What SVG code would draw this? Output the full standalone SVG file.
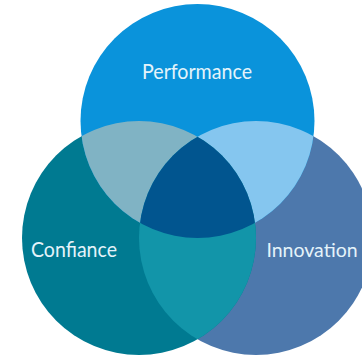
<svg xmlns="http://www.w3.org/2000/svg" width="362" height="355" viewBox="0 0 362 355">
<style>
text{font-family:Lato,"Open Sans",sans-serif;font-size:20.5px;fill:#e4f3fa;text-anchor:middle}
</style>
<defs>
<clipPath id="cT"><circle cx="197.5" cy="121" r="117"/></clipPath>
<clipPath id="cL"><circle cx="139" cy="238" r="117"/></clipPath>
</defs>
<rect width="362" height="355" fill="#fff"/>
<g id="innovation"><circle cx="256" cy="238" r="117" fill="#4d78ac"/></g>
<g id="confiance"><circle cx="139" cy="238" r="117" fill="#007a91"/></g>
<g id="performance"><circle cx="197.5" cy="121" r="117" fill="#0a93db"/></g>
<g id="overlaps">
<g clip-path="url(#cT)"><circle cx="139" cy="238" r="117" fill="#80b3c4"/><circle cx="256" cy="238" r="117" fill="#85c6ef"/></g>
<g clip-path="url(#cL)"><circle cx="256" cy="238" r="117" fill="#1295a9"/></g>
<g clip-path="url(#cT)"><g clip-path="url(#cL)"><circle cx="256" cy="238" r="117" fill="#01558f"/></g></g>
</g>
<g id="labels">
<text x="197" y="78.5" textLength="110" lengthAdjust="spacingAndGlyphs">Performance</text>
<text x="74" y="257" textLength="86" lengthAdjust="spacingAndGlyphs">Confiance</text>
<text x="312" y="257" style="font-size:19.5px">Innovation</text>
</g>
</svg>
